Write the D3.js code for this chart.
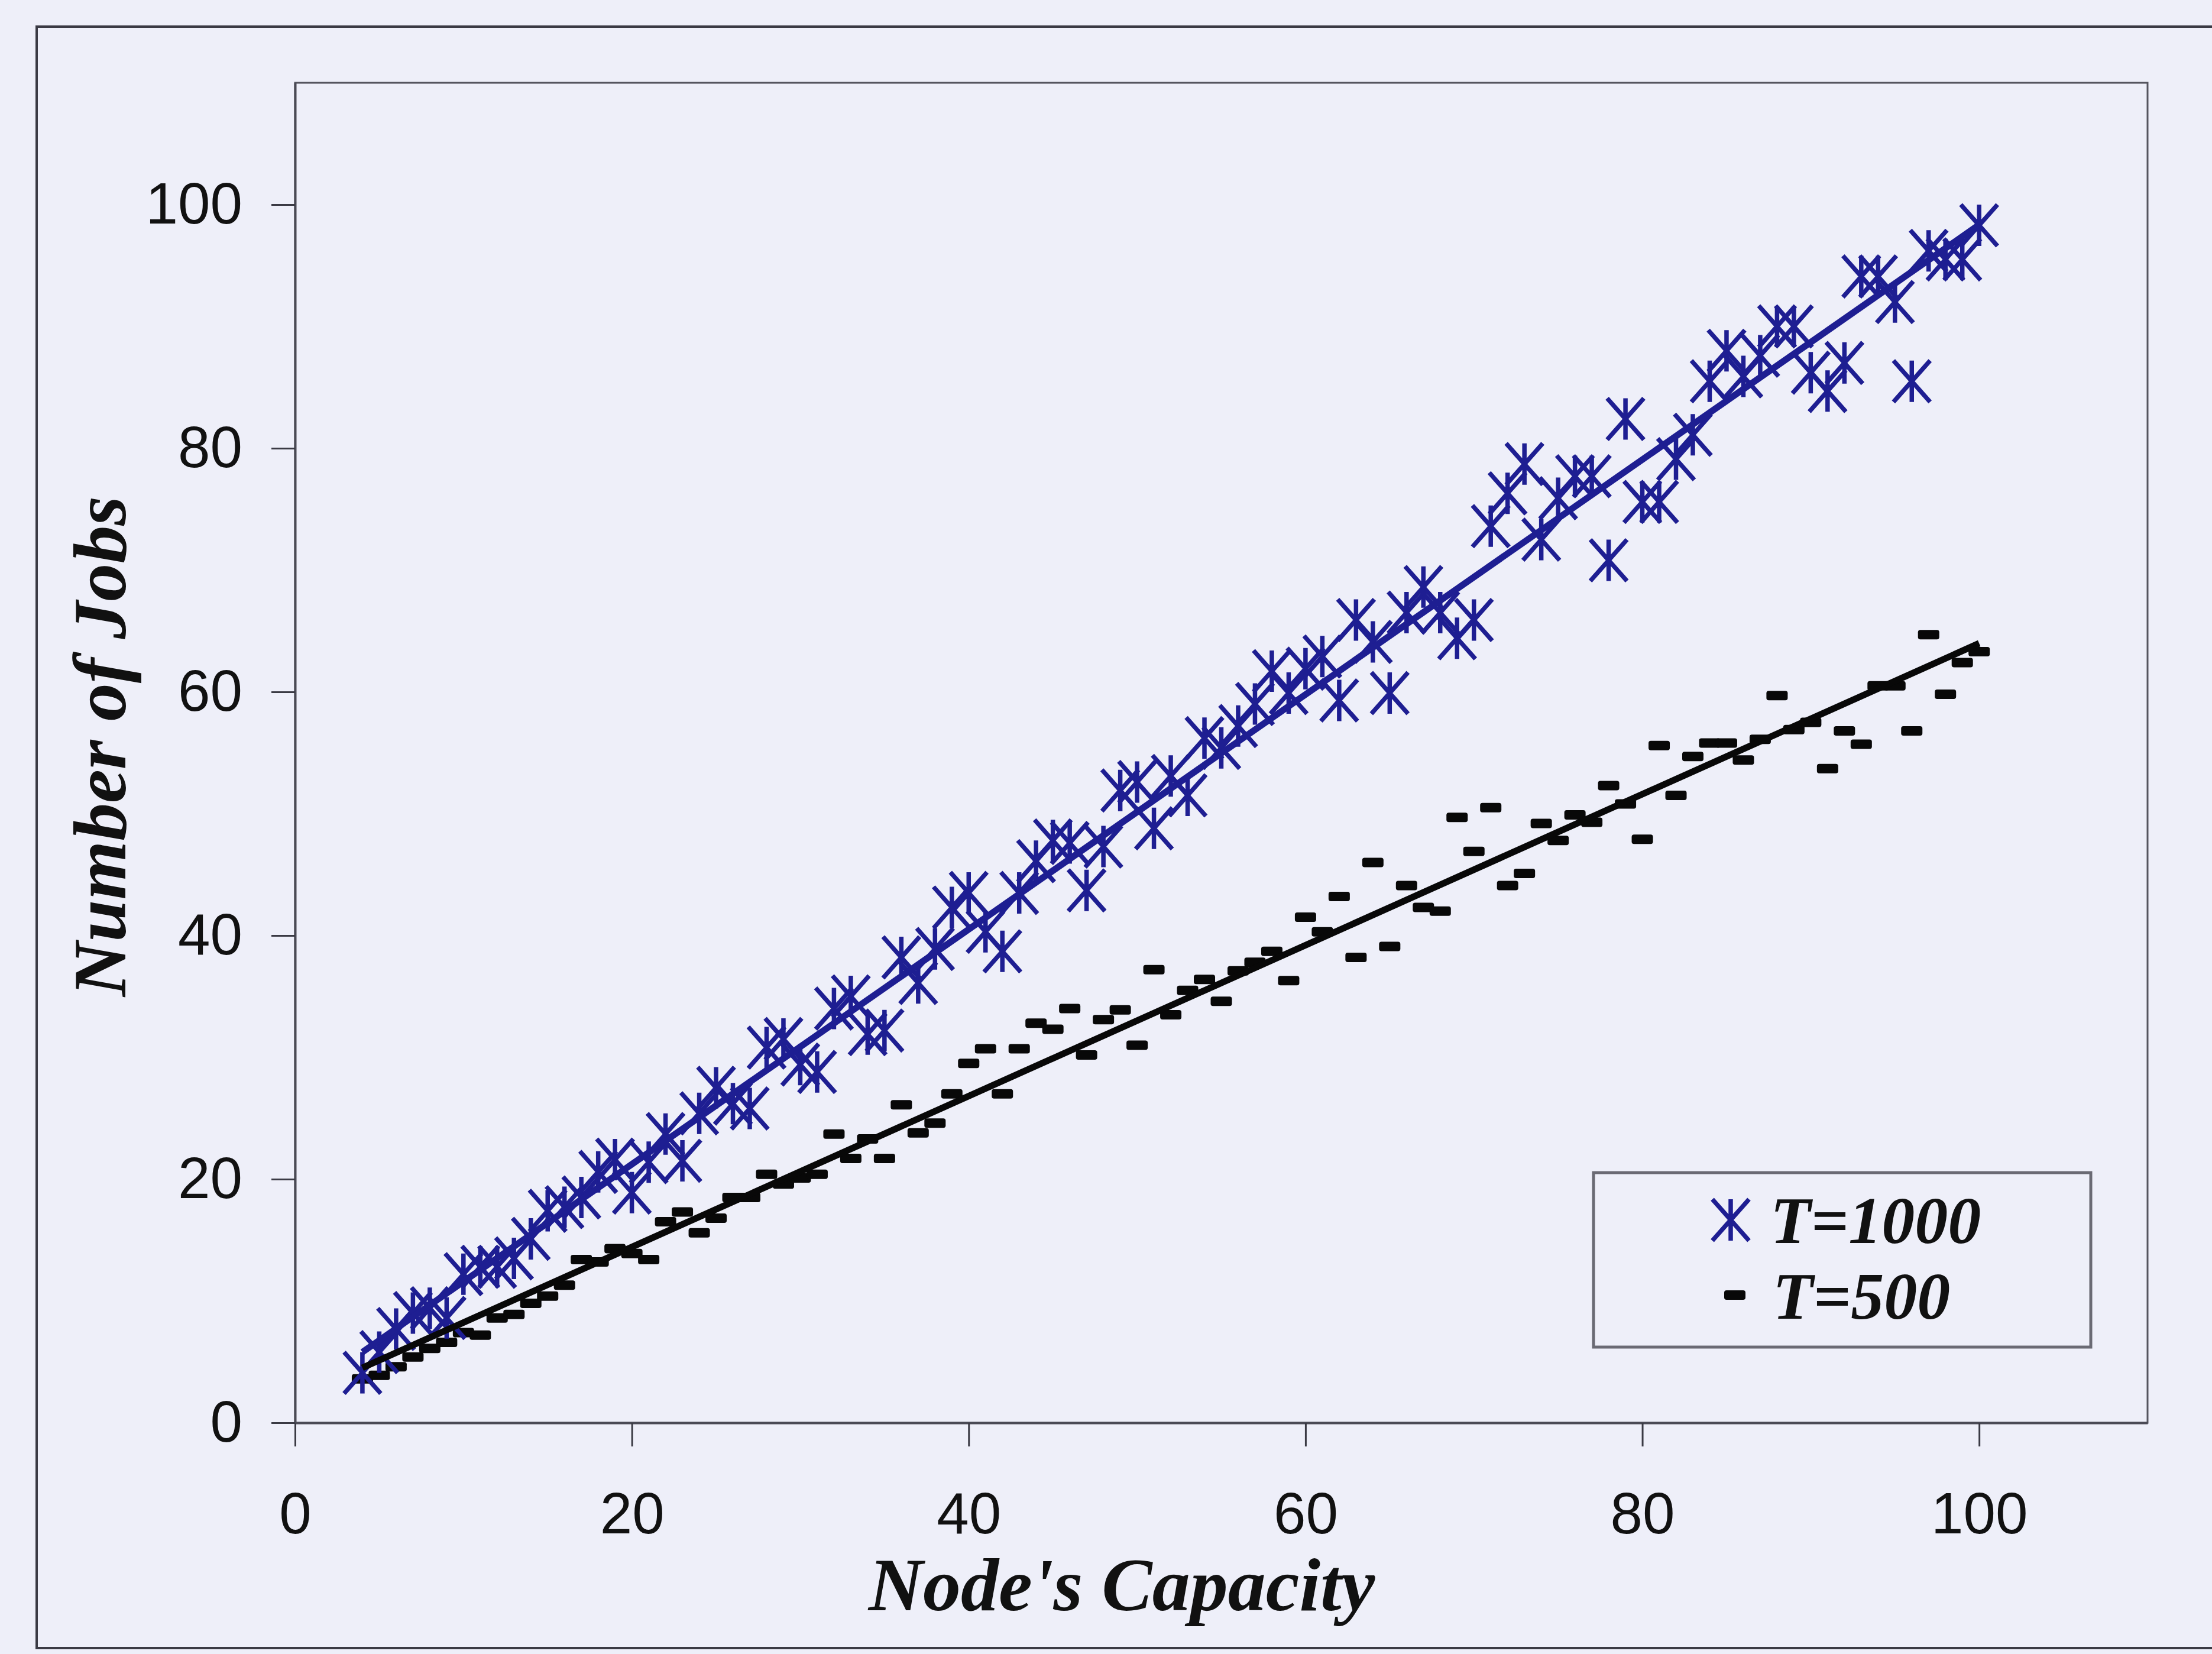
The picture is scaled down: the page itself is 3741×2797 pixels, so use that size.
<!DOCTYPE html>
<html>
<head>
<meta charset="utf-8">
<script src="https://cdn.jsdelivr.net/npm/d3@7"></script>
<style>
  html, body { margin: 0; padding: 0; background: #eeeff9; }
  svg { display: block; }
</style>
</head>
<body>
<svg id="chart" width="3741" height="2797"></svg>
<script>
// Node capacity (x) shared by both runs
const capacity = [
  4, 5, 6, 7, 8, 9, 10, 11, 12, 13, 14, 15, 16, 17, 18, 19, 20, 21, 22, 23,
  24, 25, 26, 27, 28, 29, 30, 31, 32, 33, 34, 35, 36, 37, 38, 39, 40, 41, 42, 43,
  44, 45, 46, 47, 48, 49, 50, 51, 52, 53, 54, 55, 56, 57, 58, 59, 60, 61, 62, 63,
  64, 65, 66, 67, 68, 69, 70, 71, 72, 73, 74, 75, 76, 77, 78, 79, 80, 81, 82, 83,
  84, 85, 86, 87, 88, 89, 90, 91, 92, 93, 94, 95, 96, 97, 98, 99, 100
];

// Number of jobs, T=1000
const jobsT1000 = [
  4.1, 5.8, 7.7, 9.0, 9.4, 8.6, 12.2, 12.8, 12.8, 13.5,
  15.1, 17.4, 17.7, 18.5, 20.6, 21.6, 18.9, 21.4, 23.7, 21.5,
  25.4, 27.5, 26.2, 25.8, 30.8, 31.5, 29.4, 28.8, 34.0, 35.0,
  31.9, 32.2, 38.2, 36.1, 38.9, 42.3, 43.5, 40.3, 38.7, 43.5,
  46.1, 47.8, 47.6, 43.7, 47.3, 51.9, 52.6, 48.8, 53.1, 51.5,
  56.2, 55.4, 57.2, 59.0, 61.7, 59.9, 61.9, 62.9, 59.3, 65.9,
  64.1, 59.9, 66.5, 68.6, 66.5, 64.4, 65.9, 73.6, 76.3, 78.7,
  72.5, 75.9, 77.7, 77.7, 70.8, 82.4, 75.6, 75.6, 79.1, 81.1,
  85.5, 88.0, 85.9, 87.6, 90.0, 90.0, 86.2, 84.7, 87.0, 94.1,
  94.1, 92.0, 85.5, 96.2, 95.5, 95.5, 98.3
];

// Number of jobs, T=500
const jobsT500 = [
  3.6, 3.9, 4.6, 5.4, 6.1, 6.6, 7.4, 7.2, 8.6, 8.9,
  9.8, 10.4, 11.3, 13.4, 13.2, 14.3, 13.9, 13.4, 16.5, 17.3,
  15.6, 16.8, 18.5, 18.5, 20.4, 19.6, 20.1, 20.4, 23.7, 21.7,
  23.3, 21.7, 26.1, 23.8, 24.6, 27.0, 29.5, 30.7, 27.0, 30.7,
  32.8, 32.3, 34.0, 30.2, 33.1, 33.9, 31.0, 37.2, 33.5, 35.5,
  36.4, 34.6, 37.1, 37.8, 38.7, 36.3, 41.5, 40.3, 43.2, 38.2,
  46.0, 39.1, 44.1, 42.3, 42.0, 49.7, 46.9, 50.5, 44.1, 45.1,
  49.2, 47.8, 49.9, 49.3, 52.3, 50.8, 47.9, 55.6, 51.5, 54.7,
  55.8, 55.8, 54.4, 56.1, 59.7, 56.9, 57.5, 53.7, 56.8, 55.7,
  60.5, 60.5, 56.8, 64.7, 59.8, 62.4, 63.3
];

const xTicks = [0, 20, 40, 60, 80, 100];
const yTicks = [0, 20, 40, 60, 80, 100];
const seriesNames = ["T=1000", "T=500"];
const xTitle = "Node's Capacity";
const yTitle = "Number of Jobs";

const BLUE = "#1e1e92";
const BLACK = "#080808";
const serif = "'Liberation Serif', 'Times New Roman', serif";
const sans = "'Liberation Sans', Arial, sans-serif";

const svg = d3.select("#chart");

const plot = { left: 499, right: 3632, top: 140, bottom: 2406 };
const x = d3.scaleLinear().domain([0, 110]).range([plot.left, plot.right]);
const y = d3.scaleLinear().domain([0, 110]).range([plot.bottom, plot.top]);

// outer chart frame
svg.append("rect")
  .attr("x", 62).attr("y", 45)
  .attr("width", 3800).attr("height", 2742)
  .attr("fill", "none").attr("stroke", "#3a3a44").attr("stroke-width", 4);

// plot-area border
svg.append("rect")
  .attr("x", plot.left).attr("y", plot.top)
  .attr("width", plot.right - plot.left).attr("height", plot.bottom - plot.top)
  .attr("fill", "none").attr("stroke", "#55555f").attr("stroke-width", 3);

// axes
const xAxis = svg.append("g")
  .attr("transform", `translate(0,${plot.bottom})`)
  .call(d3.axisBottom(x).tickValues(xTicks).tickSize(40).tickSizeOuter(0).tickPadding(77));
const yAxis = svg.append("g")
  .attr("transform", `translate(${plot.left},0)`)
  .call(d3.axisLeft(y).tickValues(yTicks).tickSize(40).tickSizeOuter(0).tickPadding(49));

[xAxis, yAxis].forEach(g => {
  g.select(".domain").attr("stroke", "#4a4a55").attr("stroke-width", 4);
  g.selectAll(".tick line").attr("stroke", "#3a3a44").attr("stroke-width", 3);
  g.selectAll(".tick text")
    .attr("fill", "#111")
    .style("font-family", sans)
    .style("font-size", "98px");
});

// axis titles
svg.append("text")
  .attr("x", 1897).attr("y", 2723)
  .attr("text-anchor", "middle")
  .style("font-family", serif).style("font-weight", "bold").style("font-style", "italic")
  .style("font-size", "128px").attr("fill", "#111")
  .text(xTitle);

svg.append("text")
  .attr("transform", "translate(212,1262) rotate(-90)")
  .attr("text-anchor", "middle")
  .style("font-family", serif).style("font-weight", "bold").style("font-style", "italic")
  .style("font-size", "128px").attr("fill", "#111")
  .text(yTitle);

// marker shapes
const AW = 31, AH = 35;
function asteriskPath(cx, cy) {
  return `M${cx - AW},${cy - AH}L${cx + AW},${cy + AH}` +
         `M${cx - AW},${cy + AH}L${cx + AW},${cy - AH}` +
         `M${cx},${cy - AH}L${cx},${cy + AH}`;
}
const DW = 36, DH = 16;

const pts1000 = capacity.map((c, i) => ({ c, v: jobsT1000[i] }));
const pts500 = capacity.map((c, i) => ({ c, v: jobsT500[i] }));

// T=500 dashes
svg.append("g").selectAll("rect")
  .data(pts500).join("rect")
  .attr("x", d => x(d.c) - DW / 2)
  .attr("y", d => y(d.v) - DH / 2)
  .attr("width", DW).attr("height", DH)
  .attr("rx", 4)
  .attr("fill", BLACK);

// T=1000 asterisks
svg.append("g").selectAll("path")
  .data(pts1000).join("path")
  .attr("d", d => asteriskPath(x(d.c), y(d.v)))
  .attr("fill", "none")
  .attr("stroke", BLUE).attr("stroke-width", 7.5)
  .attr("stroke-linecap", "butt");

// least-squares linear trend for each run
function linearFit(xs, ys) {
  const mx = d3.mean(xs), my = d3.mean(ys);
  let sxy = 0, sxx = 0;
  for (let i = 0; i < xs.length; i++) {
    sxy += (xs[i] - mx) * (ys[i] - my);
    sxx += (xs[i] - mx) * (xs[i] - mx);
  }
  const slope = sxy / sxx;
  return { slope, intercept: my - slope * mx };
}
const xExtent = d3.extent(capacity);
const line = d3.line().x(d => x(d[0])).y(d => y(d[1]));

[[jobsT500, BLACK], [jobsT1000, BLUE]].forEach(([vals, color]) => {
  const f = linearFit(capacity, vals);
  const seg = xExtent.map(c => [c, f.intercept + f.slope * c]);
  svg.append("path")
    .attr("d", line(seg))
    .attr("fill", "none")
    .attr("stroke", color)
    .attr("stroke-width", 11);
});

// legend
const legend = svg.append("g");
legend.append("rect")
  .attr("x", 2695).attr("y", 1983)
  .attr("width", 841).attr("height", 295)
  .attr("fill", "#eeeff9").attr("stroke", "#6a6a74").attr("stroke-width", 5);

legend.append("path")
  .attr("d", asteriskPath(2927, 2063))
  .attr("fill", "none").attr("stroke", BLUE).attr("stroke-width", 7.5);
legend.append("rect")
  .attr("x", 2934 - DW / 2).attr("y", 2190 - DH / 2)
  .attr("width", DW).attr("height", DH).attr("rx", 4)
  .attr("fill", BLACK);

[[seriesNames[0], 2994, 2102], [seriesNames[1], 2998, 2230]].forEach(([t, lx, ly]) => {
  legend.append("text")
    .attr("x", lx).attr("y", ly)
    .style("font-family", serif).style("font-weight", "bold").style("font-style", "italic")
    .style("font-size", "112px").attr("fill", "#111")
    .text(t);
});
</script>
</body>
</html>
